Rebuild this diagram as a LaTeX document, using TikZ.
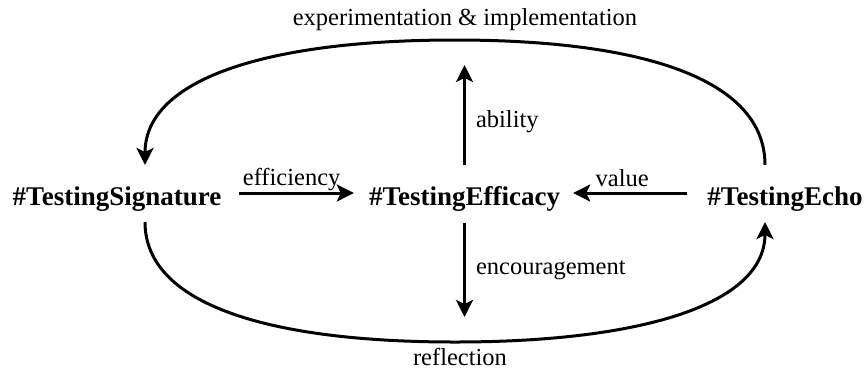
\documentclass[tikz,border=0pt]{standalone}
\usepackage{fontspec}
\setmainfont{Liberation Serif}
\usetikzlibrary{arrows.meta}
\tikzset{
  hub/.style={inner sep=0pt, font=\fontsize{27}{32}\selectfont\bfseries},
  lbl/.style={inner sep=0pt, font=\fontsize{24.5}{29}\selectfont},
  arr/.style={line width=3pt, -{Stealth[length=17pt,width=17pt,inset=4pt]}},
  link/.style={line width=3pt}
}
\begin{document}
\begin{tikzpicture}[x=1pt,y=-1pt]
\useasboundingbox (0,0) rectangle (867,376);
% nodes
\node[hub, anchor=base] (sig) at (117,205) {\#TestingSignature};
\node[hub, anchor=base] (eff) at (464.5,205) {\#TestingEfficacy};
\node[hub, anchor=base] (echo) at (785,205) {\#TestingEcho};
% anchor points for the curved links
\coordinate (sigtop) at ([xshift=28pt,yshift=40pt]sig.base);
\coordinate (sigbot) at ([xshift=28pt,yshift=-17pt]sig.base);
\coordinate (echotop) at ([xshift=-20pt,yshift=40pt]echo.base);
\coordinate (echobot) at ([xshift=-20pt,yshift=-17pt]echo.base);
\coordinate (abl) at ([yshift=140pt]eff.base);
\coordinate (enc) at ([yshift=-112pt]eff.base);
% straight arrows
\draw[arr] ([xshift=18pt,yshift=12pt]sig.base east) -- ([xshift=-15pt,yshift=12pt]eff.base west)
  node[lbl, midway, anchor=base, xshift=-5pt, yshift=8pt] {efficiency};
\draw[arr] ([xshift=-20pt,yshift=12pt]echo.base west) -- ([xshift=13pt,yshift=12pt]eff.base east)
  node[lbl, midway, anchor=base, xshift=-8pt, yshift=7pt] {value};
\draw[arr] ([yshift=40pt]eff.base) -- (abl)
  node[lbl, pos=0.38, anchor=base west, xshift=10pt] {ability};
\draw[arr] ([yshift=-18pt]eff.base) -- (enc)
  node[lbl, pos=0.55, anchor=base west, xshift=10pt] {encouragement};
% curved arrows
\draw[arr] (echotop) .. controls (765,78) and (640,40) .. (455,40)
  node[lbl, anchor=base, xshift=10pt, yshift=15pt] {experimentation \& implementation}
  .. controls (270,40) and (145,78) .. (sigtop);
\draw[arr] (sigbot) .. controls (145,305) and (270,342) .. (455,342)
  node[lbl, anchor=base, xshift=5pt, yshift=-23pt] {reflection}
  .. controls (640,342) and (765,305) .. (echobot);
\end{tikzpicture}
\end{document}
